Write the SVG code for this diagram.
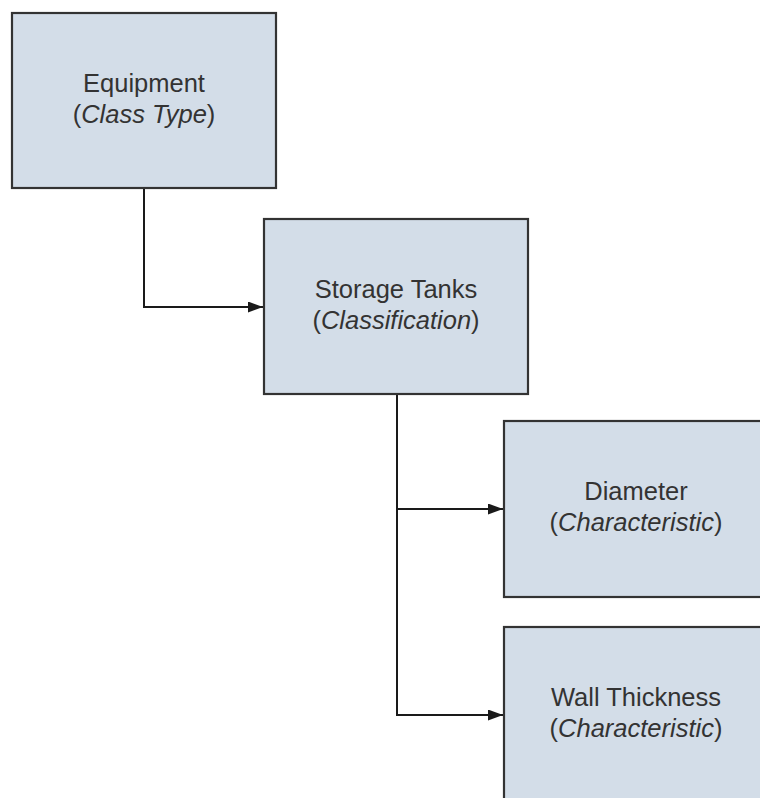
<svg xmlns="http://www.w3.org/2000/svg" width="760" height="798" viewBox="0 0 760 798">
<style>
.box{fill:#d3dde8;stroke:#333333;stroke-width:2.2}
.t{font-family:"Liberation Sans",Arial,sans-serif;font-size:25.5px;fill:#333333;text-anchor:middle}
.i{font-style:italic}
.c{fill:none;stroke:#1a1a1a;stroke-width:2}
</style>
<defs>
<marker id="arr" markerWidth="15" markerHeight="11" refX="15" refY="5.5" orient="auto" markerUnits="userSpaceOnUse">
<path d="M0,0 L15,5.5 L0,11 Z" fill="#1a1a1a"/>
</marker>
</defs>
<rect width="760" height="798" fill="#ffffff"/>
<g id="connectors">
<path class="c" d="M144,188 V307 H263" marker-end="url(#arr)"/>
<path class="c" d="M397,394 V715 H503" marker-end="url(#arr)"/>
<path class="c" d="M397,509 H503" marker-end="url(#arr)"/>
</g>
<g id="equipment">
<rect class="box" x="12" y="13" width="264" height="175"/>
<text class="t" x="144" y="92">Equipment</text>
<text class="t" x="144" y="123">(<tspan class="i">Class Type</tspan>)</text>
</g>
<g id="storage-tanks">
<rect class="box" x="264" y="219" width="264" height="175"/>
<text class="t" x="396" y="298">Storage Tanks</text>
<text class="t" x="396" y="329">(<tspan class="i">Classification</tspan>)</text>
</g>
<g id="diameter">
<rect class="box" x="504" y="421" width="264" height="176"/>
<text class="t" x="636" y="500">Diameter</text>
<text class="t" x="636" y="531">(<tspan class="i">Characteristic</tspan>)</text>
</g>
<g id="wall-thickness">
<rect class="box" x="504" y="627" width="264" height="176"/>
<text class="t" x="636" y="706">Wall Thickness</text>
<text class="t" x="636" y="737">(<tspan class="i">Characteristic</tspan>)</text>
</g>
</svg>
